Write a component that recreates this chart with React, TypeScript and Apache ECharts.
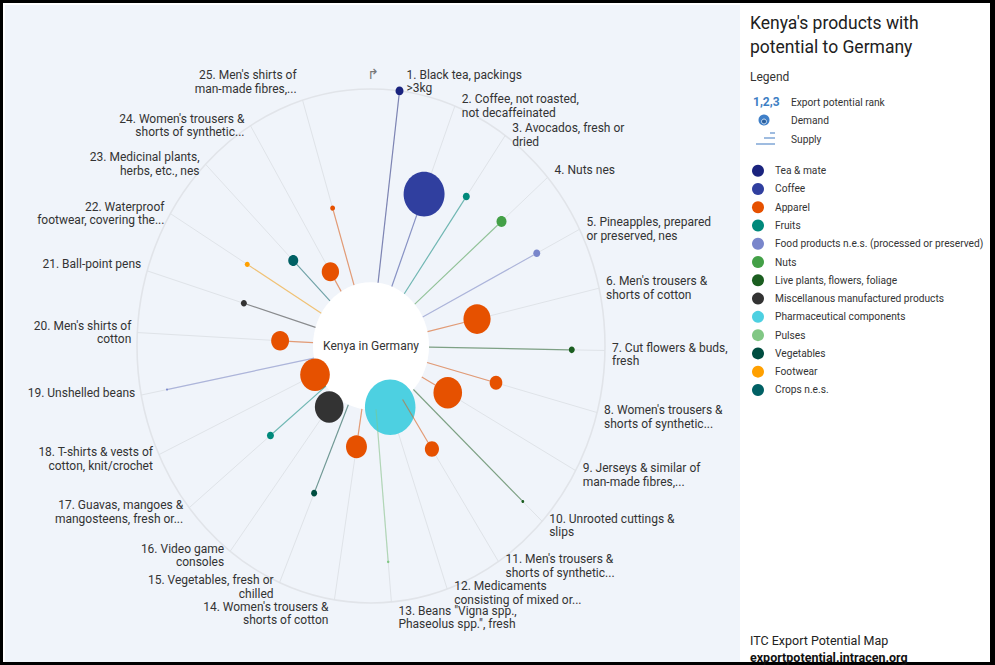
import React, { useEffect, useRef } from "react";
import * as echarts from "echarts";

// ---------- data ----------
const categories = [
  "Tea & mate",
  "Coffee",
  "Apparel",
  "Fruits",
  "Food products n.e.s. (processed or preserved)",
  "Nuts",
  "Live plants, flowers, foliage",
  "Miscellanous manufactured products",
  "Pharmaceutical components",
  "Pulses",
  "Vegetables",
  "Footwear",
  "Crops n.e.s.",
];
const categoryColors = [
  "#1a237e", "#303f9f", "#e65100", "#00897b", "#7986cb", "#43a047", "#1b5e20",
  "#333333", "#4dd0e1", "#81c784", "#004d40", "#ffa000", "#006064",
];

const productLabels = [
  "1. Black tea, packings\n>3kg",
  "2. Coffee, not roasted,\nnot decaffeinated",
  "3. Avocados, fresh or\ndried",
  "4. Nuts nes",
  "5. Pineapples, prepared\nor preserved, nes",
  "6. Men's trousers &\nshorts of cotton",
  "7. Cut flowers & buds,\nfresh",
  "8. Women's trousers &\nshorts of synthetic...",
  "9. Jerseys & similar of\nman-made fibres,...",
  "10. Unrooted cuttings &\nslips",
  "11. Men's trousers &\nshorts of synthetic...",
  "12. Medicaments\nconsisting of mixed or...",
  "13. Beans \"Vigna spp.,\nPhaseolus spp.\", fresh",
  "14. Women's trousers &\nshorts of cotton",
  "15. Vegetables, fresh or\nchilled",
  "16. Video game\nconsoles",
  "17. Guavas, mangoes &\nmangosteens, fresh or...",
  "18. T-shirts & vests of\ncotton, knit/crochet",
  "19. Unshelled beans",
  "20. Men's shirts of\ncotton",
  "21. Ball-point pens",
  "22. Waterproof\nfootwear, covering the...",
  "23. Medicinal plants,\nherbs, etc., nes",
  "24. Women's trousers &\nshorts of synthetic...",
  "25. Men's shirts of\nman-made fibres,...",
];
// index into categories
const productCategory = [0, 1, 3, 5, 4, 2, 6, 2, 2, 6, 2, 8, 9, 2, 10, 7, 3, 2, 4, 2, 7, 11, 12, 2, 2];
// supply: relative length of the spoke (0..1)
const supply = [
  1.0, 0.633, 0.71, 0.739, 0.795, 0.465, 0.858, 0.553, 0.375, 0.887, 0.478, 0.252, 0.843,
  0.397, 0.622, 0.297, 0.553, 0.264, 0.888, 0.389, 0.568, 0.617, 0.47, 0.337, 0.561,
];
// demand: relative, proportional to bubble area
const demand = [
  16, 420, 12, 25, 12, 185, 9, 40, 205, 2, 50, 640, 1.5,
  110, 9, 205, 12, 220, 1, 80, 9, 6, 25, 75, 6,
];

// ---------- layout helpers ----------
const STEP = 14; // degrees between spokes
const INNER = 0.248; // radius of the centre disc
const MAX_BUBBLE = 0.108; // radius of the largest bubble
const LH = 13.5;
const FONT = "Roboto";
const maxDemand = Math.max(...demand);
const angleOf = (i: number) => ((STEP * i + STEP / 2) * Math.PI) / 180;
const dir = (i: number, r: number) => [r * Math.sin(angleOf(i)), r * Math.cos(angleOf(i))];
const bubbleR = (i: number) => MAX_BUBBLE * Math.sqrt(demand[i] / maxDemand);

export default function App() {
  const ref = useRef<HTMLDivElement>(null);
  useEffect(() => {
    document.body.style.margin = "0";
    const chart = echarts.init(ref.current!, null, { renderer: "svg" });
    const data = supply.map((s, i) => [...dir(i, s), i]);

    const legendGraphics: any[] = [];
    categories.forEach((c, k) => {
      const y = 170.7 + 18.27 * k;
      legendGraphics.push({
        type: "circle",
        shape: { cx: 758, cy: y, r: 6 },
        style: { fill: categoryColors[k] },
      });
      legendGraphics.push({
        type: "text",
        x: 775,
        y,
        style: { text: c, fill: "#333", fontSize: 10.2, fontFamily: FONT, verticalAlign: "middle" },
      });
    });

    chart.setOption({
      animation: false,
      backgroundColor: "#000",
      grid: { left: 137, top: 89, width: 468, height: 514 },
      xAxis: { type: "value", min: -1, max: 1, show: false },
      yAxis: { type: "value", min: -1, max: 1, show: false },
      graphic: [
        { type: "rect", z: 0, shape: { x: 3, y: 3, width: 987, height: 659 }, style: { fill: "#ffffff" } },
        { type: "rect", z: 0, shape: { x: 5, y: 5, width: 735, height: 657 }, style: { fill: "#f0f4fa" } },
        {
          type: "text", x: 750, y: 11, z: 1,
          style: { text: "Kenya's products with\npotential to Germany", fill: "#212121", fontSize: 17.5, lineHeight: 24, fontFamily: FONT },
        },
        { type: "text", x: 750, y: 77, z: 1, style: { text: "Legend", fill: "#333", fontSize: 12, fontFamily: FONT, verticalAlign: "middle" } },
        { type: "text", x: 753, y: 102, z: 1, style: { text: "1,2,3", fill: "#3d7ec4", fontSize: 12, fontWeight: "bold", fontFamily: FONT, verticalAlign: "middle" } },
        { type: "text", x: 791, y: 102, z: 1, style: { text: "Export potential rank", fill: "#333", fontSize: 10.2, fontFamily: FONT, verticalAlign: "middle" } },
        { type: "circle", z: 1, shape: { cx: 764, cy: 120, r: 5.5 }, style: { fill: "#3f7fc8" } },
        { type: "circle", z: 1, shape: { cx: 764, cy: 121.5, r: 2.5 }, style: { fill: "#2a5f9e", stroke: "#cfe0f3", lineWidth: 1 } },
        { type: "text", x: 791, y: 120, z: 1, style: { text: "Demand", fill: "#333", fontSize: 10.2, fontFamily: FONT, verticalAlign: "middle" } },
        { type: "line", z: 1, shape: { x1: 770, y1: 133, x2: 775, y2: 133 }, style: { stroke: "#7fa6d6", lineWidth: 1.5 } },
        { type: "line", z: 1, shape: { x1: 764, y1: 138, x2: 775, y2: 138 }, style: { stroke: "#7fa6d6", lineWidth: 1.5 } },
        { type: "line", z: 1, shape: { x1: 756, y1: 144, x2: 775, y2: 144 }, style: { stroke: "#7fa6d6", lineWidth: 1.5 } },
        { type: "text", x: 791, y: 139, z: 1, style: { text: "Supply", fill: "#333", fontSize: 10.2, fontFamily: FONT, verticalAlign: "middle" } },
        ...legendGraphics.map((g) => ({ ...g, z: 1 })),
        { type: "text", x: 750, y: 640, z: 1, style: { text: "ITC Export Potential Map", fill: "#222", fontSize: 12.5, fontFamily: FONT, verticalAlign: "middle" } },
        { type: "text", x: 750, y: 657, z: 1, style: { text: "exportpotential.intracen.org", fill: "#111", fontSize: 12.5, fontWeight: "bold", fontFamily: FONT, verticalAlign: "middle" } },
      ],
      series: [
        // outer ring + start arrow
        {
          type: "custom",
          z: 3,
          silent: true,
          data: [[0, 0]],
          renderItem: (params: any, api: any) => {
            const c = api.coord([0, 0]);
            const sz = api.size([1, 1]);
            const top = api.coord([0, 1]);
            return {
              type: "group",
              children: [
                { type: "ellipse", shape: { cx: c[0], cy: c[1], rx: sz[0], ry: sz[1] }, style: { fill: "none", stroke: "#e1e4e9", lineWidth: 1.6 } },
                { type: "text", x: top[0] + 2, y: top[1] - 15, style: { text: "↱", fill: "#777", fontSize: 14, fontFamily: "DejaVu Sans", align: "center", verticalAlign: "middle" } },
              ],
            };
          },
        },
        // grid spokes + labels
        {
          type: "custom",
          z: 4,
          silent: true,
          data,
          renderItem: (params: any, api: any) => {
            const i = params.dataIndex;
            const c = api.coord([0, 0]);
            const e = api.coord(dir(i, 1));
            const a = angleOf(i);
            const s = Math.sin(a);
            const co = Math.cos(a);
            let dy = co > 0 ? -7 : -2.5;
            if (co > 0.95) dy = s > 0 ? -16 : -25;
            if (co < -0.96) dy = s > 0 ? 8.5 : 7;
            const right = s > 0;
            return {
              type: "group",
              children: [
                { type: "line", shape: { x1: c[0], y1: c[1], x2: e[0], y2: e[1] }, style: { stroke: "#dfe3e8", lineWidth: 1 } },
                {
                  type: "text",
                  x: e[0] + (right ? 7 : -6),
                  y: e[1] + dy - LH / 2,
                  style: {
                    text: productLabels[i], fill: "#333", fontSize: 12, fontFamily: FONT,
                    align: right ? "left" : "right", verticalAlign: "top", lineHeight: LH,
                  },
                },
              ],
            };
          },
        },
        // centre disc
        {
          type: "custom",
          z: 5,
          silent: true,
          data: [[0, 0]],
          renderItem: (params: any, api: any) => {
            const c = api.coord([0, 0]);
            const sz = api.size([INNER, INNER]);
            return {
              type: "group",
              children: [
                { type: "ellipse", shape: { cx: c[0], cy: c[1], rx: sz[0], ry: sz[1] }, style: { fill: "#ffffff" } },
                { type: "text", x: c[0], y: c[1], style: { text: "Kenya in Germany", fill: "#333", fontSize: 12, fontFamily: FONT, align: "center", verticalAlign: "middle" } },
              ],
            };
          },
        },
        // demand bubbles
        {
          type: "custom",
          z: 6,
          silent: true,
          data,
          renderItem: (params: any, api: any) => {
            const i = params.dataIndex;
            const p = api.coord([api.value(0), api.value(1)]);
            const r = bubbleR(i);
            const sz = api.size([r, r]);
            return {
              type: "ellipse",
              shape: { cx: p[0], cy: p[1], rx: sz[0], ry: sz[1] },
              style: { fill: categoryColors[productCategory[i]] },
            };
          },
        },
        // supply lines
        {
          type: "custom",
          z: 7,
          silent: true,
          data,
          renderItem: (params: any, api: any) => {
            const i = params.dataIndex;
            const end = supply[i] - bubbleR(i);
            if (end <= INNER) return { type: "group", children: [] };
            const p0 = api.coord(dir(i, INNER));
            const p1 = api.coord(dir(i, end));
            return {
              type: "line",
              shape: { x1: p0[0], y1: p0[1], x2: p1[0], y2: p1[1] },
              style: { stroke: categoryColors[productCategory[i]], lineWidth: 1.2, opacity: 0.5 },
            };
          },
        },
      ],
    });
    return () => chart.dispose();
  }, []);
  return <div ref={ref} style={{ width: 995, height: 665 }} />;
}
